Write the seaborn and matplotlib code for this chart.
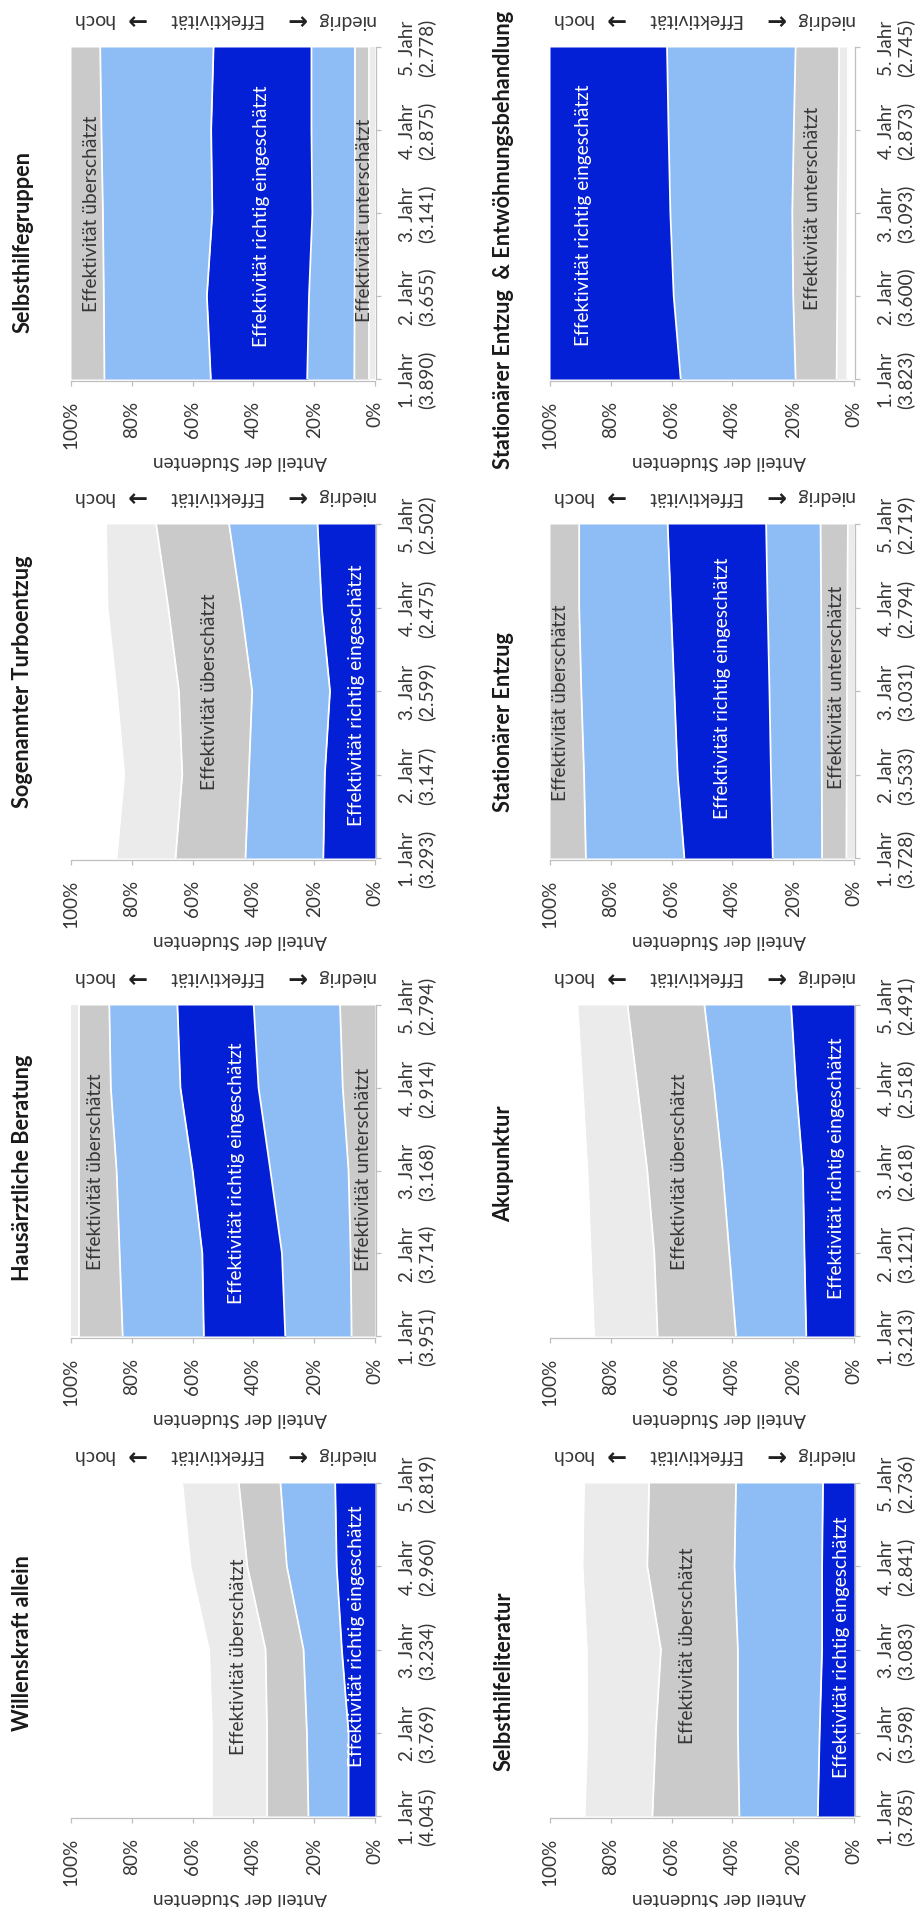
import numpy as np
import matplotlib
matplotlib.use("Agg")
import matplotlib.pyplot as plt
import seaborn as sns

# ---------------- data ----------------
YEARS = [1, 2, 3, 4, 5]
YEAR_NAMES = ["1. Jahr", "2. Jahr", "3. Jahr", "4. Jahr", "5. Jahr"]
PCT_TICKS = [0, 20, 40, 60, 80, 100]
PCT_LABELS = ["0%", "20%", "40%", "60%", "80%", "100%"]

TITLES = ["Selbsthilfegruppen", "Stationärer Entzug  & Entwöhnungsbehandlung",
          "Sogenannter Turboentzug", "Stationärer Entzug",
          "Hausärztliche Beratung", "Akupunktur",
          "Willenskraft allein", "Selbsthilfeliteratur"]

# number of students per study year
N_SELBSTHILFEGRUPPEN = [3890, 3655, 3141, 2875, 2778]
N_STAT_ENTW = [3823, 3600, 3093, 2873, 2745]
N_TURBO = [3293, 3147, 2599, 2475, 2502]
N_STAT_ENTZUG = [3728, 3533, 3031, 2794, 2719]
N_HAUSARZT = [3951, 3714, 3168, 2914, 2794]
N_AKUPUNKTUR = [3213, 3121, 2618, 2518, 2491]
N_WILLENSKRAFT = [4045, 3769, 3234, 2960, 2819]
N_LITERATUR = [3785, 3598, 3083, 2841, 2736]

# correct effectiveness rating (1 = niedrig ... 6 = hoch)
CORRECT = [4, 6, 1, 4, 3, 1, 1, 1]

# share of students (%) per rating 1..6 (rows) and study year 1..5 (columns)
SH_SELBSTHILFEGRUPPEN = [[2.0, 2.0, 2.0, 2.0, 2.0],
                         [4.8, 4.7, 4.6, 4.6, 4.6],
                         [15.5, 15.0, 14.0, 14.3, 14.3],
                         [31.7, 33.6, 32.9, 33.0, 32.2],
                         [35.0, 33.9, 36.0, 36.1, 37.3],
                         [11.0, 10.8, 10.5, 10.0, 9.6]]
SH_STAT_ENTW = [[1.0, 1.0, 1.0, 1.0, 1.0],
                [1.2, 1.2, 1.1, 1.0, 1.0],
                [3.5, 3.3, 3.2, 3.0, 2.9],
                [13.5, 14.5, 15.0, 14.8, 14.3],
                [37.8, 39.3, 40.1, 41.2, 42.3],
                [43.0, 40.7, 39.6, 39.0, 38.5]]
SH_TURBO = [[17.0, 16.5, 14.8, 17.5, 18.9],
            [25.6, 25.0, 25.6, 26.5, 29.1],
            [23.0, 21.9, 24.1, 24.0, 24.0],
            [19.4, 19.1, 20.5, 20.0, 16.5],
            [10.0, 10.0, 8.0, 7.0, 7.0],
            [5.0, 7.5, 7.0, 5.0, 4.5]]
SH_STAT_ENTZUG = [[2.5, 2.4, 2.3, 2.2, 2.0],
                  [8.0, 8.2, 8.4, 8.6, 9.0],
                  [16.2, 16.7, 17.1, 17.6, 17.9],
                  [29.1, 30.7, 31.3, 31.8, 32.4],
                  [32.4, 30.8, 30.6, 30.2, 29.1],
                  [11.8, 11.2, 10.3, 9.6, 9.6]]
SH_HAUSARZT = [[7.7, 8.0, 8.7, 10.6, 11.5],
               [21.8, 22.6, 25.7, 27.7, 28.4],
               [26.8, 26.2, 25.6, 25.7, 25.1],
               [26.7, 27.2, 25.0, 22.9, 22.4],
               [14.3, 13.3, 12.3, 10.4, 9.9],
               [2.7, 2.7, 2.7, 2.7, 2.7]]
SH_AKUPUNKTUR = [[15.7, 16.3, 16.8, 19.0, 20.7],
                 [23.1, 24.7, 26.4, 27.0, 28.5],
                 [25.8, 24.7, 24.8, 25.2, 25.3],
                 [20.9, 20.9, 19.7, 18.1, 16.5],
                 [8.0, 7.5, 7.0, 6.5, 5.5],
                 [6.5, 5.9, 5.3, 4.2, 3.5]]
SH_WILLENSKRAFT = [[8.7, 8.7, 10.9, 12.6, 13.1],
                   [13.2, 13.7, 12.6, 16.4, 18.0],
                   [13.6, 13.1, 12.5, 13.0, 13.7],
                   [18.1, 18.1, 18.6, 18.7, 18.6],
                   [23.4, 21.4, 19.4, 17.3, 16.6],
                   [23.0, 25.0, 26.0, 22.0, 20.0]]
SH_LITERATUR = [[11.9, 11.3, 10.5, 10.5, 10.2],
                [25.8, 26.9, 27.7, 28.8, 28.6],
                [28.6, 27.0, 25.3, 28.7, 28.6],
                [22.3, 22.5, 24.4, 21.3, 21.4],
                [6.0, 6.0, 6.0, 5.5, 5.5],
                [5.4, 6.3, 6.1, 5.2, 5.7]]

SHARES = [SH_SELBSTHILFEGRUPPEN, SH_STAT_ENTW, SH_TURBO, SH_STAT_ENTZUG,
          SH_HAUSARZT, SH_AKUPUNKTUR, SH_WILLENSKRAFT, SH_LITERATUR]
NS = [N_SELBSTHILFEGRUPPEN, N_STAT_ENTW, N_TURBO, N_STAT_ENTZUG,
      N_HAUSARZT, N_AKUPUNKTUR, N_WILLENSKRAFT, N_LITERATUR]

LBL_OVER = "Effektivität überschätzt"
LBL_RIGHT = "Effektivität richtig eingeschätzt"
LBL_UNDER = "Effektivität unterschätzt"

# ---------------- layout / style ----------------
# band-label anchors (study year, percent)
BAND_LABELS = [
    [(LBL_OVER, 3.0, 93.4), (LBL_RIGHT, 2.97, 37.2), (LBL_UNDER, 2.92, 3.5)],
    [(LBL_RIGHT, 2.99, 89.0), (LBL_UNDER, 3.07, 13.7)],
    [(LBL_OVER, 3.0, 54.6), (LBL_RIGHT, 2.96, 6.0)],
    [(LBL_OVER, 2.87, 96.5), (LBL_RIGHT, 3.05, 43.2), (LBL_UNDER, 3.05, 5.8)],
    [(LBL_OVER, 3.0, 91.8), (LBL_RIGHT, 2.98, 45.4), (LBL_UNDER, 3.03, 3.8)],
    [(LBL_OVER, 3.0, 57.5), (LBL_RIGHT, 3.04, 5.8)],
    [(LBL_OVER, 2.92, 44.8), (LBL_RIGHT, 3.17, 6.0)],
    [(LBL_OVER, 3.06, 54.7), (LBL_RIGHT, 3.04, 4.2)],
]
TITLE_Y_OFF = [242, 240, 205, 245, 214, 210, 212, 250]

W, H = 923, 1908
COL_X = [(71, 375), (550, 854)]
TITLE_X = [23, 504]
ROW_Y = [(48, 380), (525, 859), (1006, 1337), (1484, 1817)]
ROW_START = [0, 477, 954, 1431]

DIST_COLORS = ["#0420d6", "#8ebcf5", "#cacaca", "#ebebeb", "#ffffff", "#ffffff"]
TXT = "#363636"
AX_COL = "#bfbfbf"

sns.set_style("white")
plt.rcParams["font.family"] = ["Lato", "DejaVu Sans"]

fig = plt.figure(figsize=(W / 100, H / 100), dpi=100)
renderer = fig.canvas.get_renderer()


def fit_size(text, target_px, weight="normal"):
    """font size (pt) that gives the text the wanted length in pixels"""
    t = fig.text(0, 0, text, fontsize=10, fontweight=weight)
    w = t.get_window_extent(renderer=renderer).width
    t.remove()
    return 10.0 * target_px / w


FS_TICK = fit_size("(3.890)", 58)
FS_BAND = fit_size(LBL_RIGHT, 261)
FS_TITLE = fit_size("Selbsthilfegruppen", 182, "bold")
FS_YLAB = fit_size("Anteil der Studenten", 175)
FS_DIR = fit_size("Effektivität", 95)


def fx(px):
    return px / W


def fy(py):
    return 1 - py / H


for i in range(8):
    col, row = i % 2, i // 2
    x0, x1 = COL_X[col]
    y0, y1 = ROW_Y[row]
    ax = fig.add_axes([fx(x0), fy(y1), fx(x1 - x0), (y1 - y0) / H])

    shares = np.asarray(SHARES[i], dtype=float)
    cum = np.vstack([np.zeros(len(YEARS)), np.cumsum(shares, axis=0)])
    for k in range(shares.shape[0]):
        d = abs(k + 1 - CORRECT[i])
        ax.fill_betweenx(YEARS, cum[k], cum[k + 1], color=DIST_COLORS[d],
                         lw=0, zorder=1)
    for k in range(1, shares.shape[0]):
        sns.lineplot(x=cum[k], y=YEARS, orient="y", estimator=None,
                     color="white", lw=1.3, ax=ax, zorder=2, legend=False)

    ax.set_xlim(100, 0)
    ax.set_ylim(1, 5)
    ax.set_xlabel("")
    ax.set_ylabel("")

    ax.set_xticks(PCT_TICKS)
    ax.set_xticklabels(PCT_LABELS)
    ax.set_yticks(YEARS)
    ax.set_yticklabels([f"{nm}\n({n:,})".replace(",", ".")
                        for nm, n in zip(YEAR_NAMES, NS[i])])
    ax.yaxis.tick_right()
    ax.xaxis.tick_bottom()

    for s in ["left", "top"]:
        ax.spines[s].set_visible(False)
    for s in ["right", "bottom"]:
        ax.spines[s].set_color(AX_COL)
        ax.spines[s].set_linewidth(0.9)
    ax.spines["bottom"].set_position(("outward", 1.5))
    ax.spines["right"].set_position(("outward", 1))

    ax.tick_params(axis="x", direction="out", length=3.5, width=0.9,
                   color=AX_COL, pad=10, labelsize=FS_TICK, labelcolor=TXT,
                   labelrotation=90)
    ax.tick_params(axis="y", direction="out", length=3.5, width=0.9,
                   color=AX_COL, pad=13, labelsize=FS_TICK, labelcolor=TXT,
                   labelrotation=90)
    for t in ax.get_yticklabels():
        t.set_multialignment("center")
        t.set_linespacing(1.1)
        t.set_ha("left")
        t.set_va("center")

    for (txt, yr, pct) in BAND_LABELS[i]:
        color = "white" if txt == LBL_RIGHT else TXT
        ax.text(pct, yr, txt, rotation=90, ha="center", va="center",
                fontsize=FS_BAND, color=color, zorder=5)

    # title
    fig.text(fx(TITLE_X[col]), fy(ROW_START[row] + TITLE_Y_OFF[i]),
             TITLES[i], rotation=90, ha="center", va="center",
             fontsize=FS_TITLE, fontweight="bold", color="#1a1a1a")

    # value-axis title (upside down)
    fig.text(fx((x0 + x1) / 2 + 17), fy(y1 + 82), "Anteil der Studenten",
             rotation=180, ha="center", va="center", fontsize=FS_YLAB,
             color=TXT)

    # effectiveness direction (upside down): niedrig <- Effektivität -> hoch
    for frac, piece, fam, fs, wt in [(0.072, "hoch", "Lato", FS_DIR, "normal"),
                                     (0.213, "→", "DejaVu Sans", 17, "bold"),
                                     (0.473, "Effektivität", "Lato", FS_DIR, "normal"),
                                     (0.739, "←", "DejaVu Sans", 17, "bold"),
                                     (0.902, "niedrig", "Lato", FS_DIR, "normal")]:
        fig.text(fx(x0 + frac * (x1 - x0)), fy(y0 - 28), piece,
                 rotation=180, ha="center", va="center", fontsize=fs,
                 fontweight=wt, color="#202020" if wt == "bold" else TXT,
                 family=[fam, "DejaVu Sans"])

fig.savefig("out.png", dpi=100)
